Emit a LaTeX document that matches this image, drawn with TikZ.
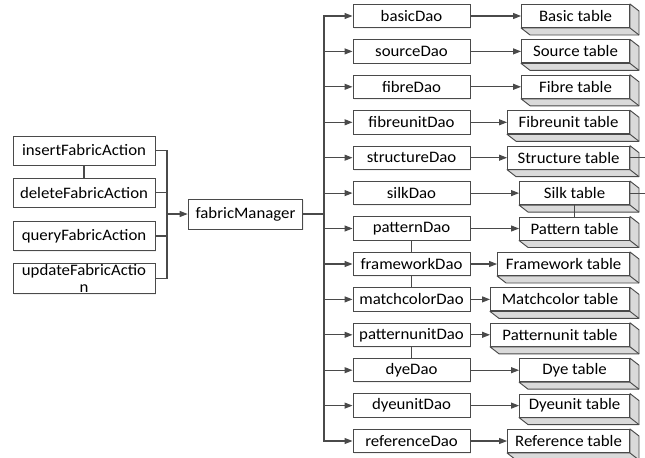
\documentclass[tikz,border=0pt]{standalone}
\usepackage{fontspec}
\setmainfont{Carlito}[FakeStretch=1.05]
\usepackage{tikz}
\usetikzlibrary{calc,arrows.meta,shadows}
\definecolor{linegray}{HTML}{4A4A4A}
\definecolor{sidegray}{HTML}{DADADA}
\tikzset{
	box/.style={draw=linegray,line width=0.7pt,fill=white,inner sep=0pt,
		font=\fontsize{12}{12.5}\selectfont,align=center,
		drop shadow={shadow xshift=0.8pt,shadow yshift=-0.8pt,opacity=0.12}},
	actbox/.style={box,minimum width=106.5pt,minimum height=21.8pt},
	daobox/.style={box,minimum width=87.8pt,minimum height=17.6pt},
	tblbox/.style={draw=linegray,line width=0.7pt,fill=white,inner sep=0pt,
		font=\fontsize{12}{12.5}\selectfont,minimum height=17.3pt,anchor=east},
	side/.style={draw=linegray,line width=0.7pt,fill=sidegray,line join=round},
	conn/.style={draw=linegray,line width=0.8pt}
}
\newcommand{\tableside}[1]{%
	\filldraw[side] (#1.north east) -- ++(9,7) -- ($(#1.south east)+(9,7)$)
		-- ($(#1.south west)+(9,7)$) -- (#1.south west) -- (#1.south east) -- cycle;
	\draw[side] (#1.south east) -- ++(9,7);
}

\begin{document}
\begin{tikzpicture}[x=0.75pt,y=-0.75pt,>={Triangle[length=6pt,width=4.5pt]}]
		\useasboundingbox (0,0) rectangle (645,457);
		\coordinate (lb) at (167,214);
		\coordinate (rb) at (324,214);
		\coordinate (edge) at (645,0);
		\node[actbox] (insert) at (84,150.5) {insertFabricAction};
		\node[actbox] (delete) at (84,192.5) {deleteFabricAction};
		\node[actbox] (query) at (84,236) {queryFabricAction};
		\node[actbox,minimum height=22.5pt] (update) at (84,278.5) {updateFabricActio\\n};
		\node[box,minimum width=86pt,minimum height=22.5pt] (fm) at (245.5,214) {fabricManager};
		\node[daobox] (basic) at (411.5,16) {basicDao};
		\node[daobox] (source) at (411.5,51.4) {sourceDao};
		\node[daobox] (fibre) at (411.5,86.8) {fibreDao};
		\node[daobox] (fibreunit) at (411.5,122.3) {fibreunitDao};
		\node[daobox] (structure) at (411.5,157.7) {structureDao};
		\node[daobox] (silk) at (411.5,193.1) {silkDao};
		\node[daobox] (pattern) at (411.5,228.5) {patternDao};
		\node[daobox] (framework) at (411.5,264) {frameworkDao};
		\node[daobox] (matchcolor) at (411.5,299.4) {matchcolorDao};
		\node[daobox] (patternunit) at (411.5,334.8) {patternunitDao};
		\node[daobox] (dye) at (411.5,370.2) {dyeDao};
		\node[daobox] (dyeunit) at (411.5,405.6) {dyeunitDao};
		\node[daobox] (reference) at (411.5,441) {referenceDao};
		\node[tblbox,minimum width=81pt] (basicT) at (630,16) {Basic table};
		\node[tblbox,minimum width=81pt] (sourceT) at (630,51.4) {Source table};
		\node[tblbox,minimum width=81pt] (fibreT) at (630,86.8) {Fibre table};
		\node[tblbox,minimum width=91.5pt] (fibreunitT) at (630,122.3) {Fibreunit table};
		\node[tblbox,minimum width=91.5pt] (structureT) at (630,157.7) {Structure table};
		\node[tblbox,minimum width=82.5pt] (silkT) at (630,193.1) {Silk table};
		\node[tblbox,minimum width=82.5pt] (patternT) at (630,228.5) {Pattern table};
		\node[tblbox,minimum width=99pt] (frameworkT) at (630,264) {Framework table};
		\node[tblbox,minimum width=104.3pt] (matchcolorT) at (630,299.4) {Matchcolor table};
		\node[tblbox,minimum width=104.3pt] (patternunitT) at (630,334.8) {Patternunit table};
		\node[tblbox,minimum width=82.5pt] (dyeT) at (630,370.2) {Dye table};
		\node[tblbox,minimum width=82.5pt] (dyeunitT) at (630,405.6) {Dyeunit table};
		\node[tblbox,minimum width=91.5pt] (referenceT) at (630,441) {Reference table};
		\tableside{basicT}
		\tableside{sourceT}
		\tableside{fibreT}
		\tableside{fibreunitT}
		\tableside{structureT}
		\tableside{silkT}
		\tableside{patternT}
		\tableside{frameworkT}
		\tableside{matchcolorT}
		\tableside{patternunitT}
		\tableside{dyeT}
		\tableside{dyeunitT}
		\tableside{referenceT}
		\draw[conn] (insert.east) -| (lb);
		\draw[conn] (update.east) -| (lb);
		\draw[conn] (delete.east) -- (delete.east -| lb);
		\draw[conn] (query.east) -- (query.east -| lb);
		\draw[conn] (insert.south) -- (delete.north);
		\draw[conn,->] (lb) -- (fm.west);
		\draw[conn] (fm.east) -- (rb);
		\draw[conn,->] (rb) |- (basic.west);
		\draw[conn,->] (rb) |- (source.west);
		\draw[conn,->] (rb) |- (fibre.west);
		\draw[conn,->] (rb) |- (fibreunit.west);
		\draw[conn,->] (rb) |- (structure.west);
		\draw[conn,->] (rb) |- (silk.west);
		\draw[conn,->] (rb) |- (pattern.west);
		\draw[conn,->] (rb) |- (framework.west);
		\draw[conn,->] (rb) |- (matchcolor.west);
		\draw[conn,->] (rb) |- (patternunit.west);
		\draw[conn,->] (rb) |- (dye.west);
		\draw[conn,->] (rb) |- (dyeunit.west);
		\draw[conn,->] (rb) |- (reference.west);
		\draw[conn,->] (basic.east) -- (basicT.west);
		\draw[conn,->] (source.east) -- (sourceT.west);
		\draw[conn,->] (fibre.east) -- (fibreT.west);
		\draw[conn,->] (fibreunit.east) -- (fibreunitT.west);
		\draw[conn,->] (structure.east) -- (structureT.west);
		\draw[conn,->] (silk.east) -- (silkT.west);
		\draw[conn,->] (pattern.east) -- (patternT.west);
		\draw[conn,->] (framework.east) -- (frameworkT.west);
		\draw[conn,->] (matchcolor.east) -- (matchcolorT.west);
		\draw[conn,->] (patternunit.east) -- (patternunitT.west);
		\draw[conn,->] (dye.east) -- (dyeT.west);
		\draw[conn,->] (dyeunit.east) -- (dyeunitT.west);
		\draw[conn,->] (reference.east) -- (referenceT.west);
		\draw[conn] (pattern.south) -- (framework.north);
		\draw[conn] (framework.south) -- (matchcolor.north);
		\draw[conn] (patternunit.south) -- (dye.north);
		\draw[conn] (silkT.south) -- (patternT.north);
		\draw[conn] (structureT.east) -- (structureT.east -| edge);
		\draw[conn] (silkT.east) -- (silkT.east -| edge);
	\end{tikzpicture}
\end{document}
